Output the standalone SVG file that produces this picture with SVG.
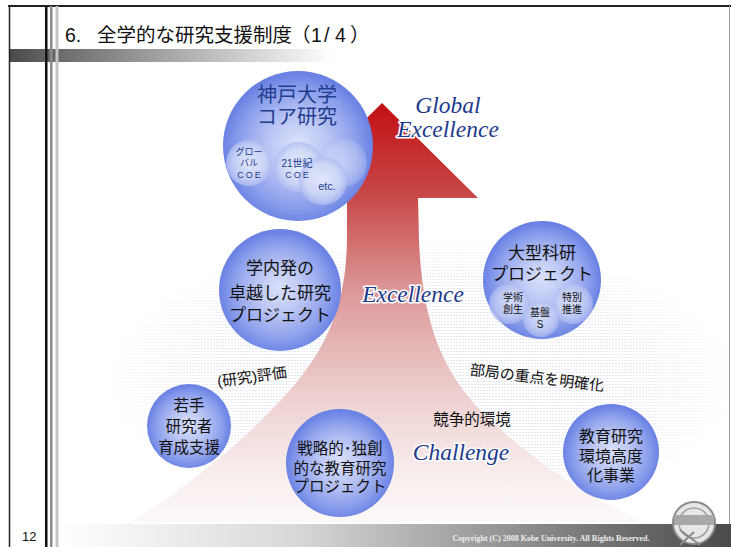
<svg xmlns="http://www.w3.org/2000/svg" width="731" height="547" viewBox="0 0 731 547">
  <style>
    .jp { font-family: "Liberation Sans", "Noto Sans CJK JP", sans-serif; fill: #111; text-anchor: middle; }
    .cjk { font-family: "Noto Sans CJK JP", sans-serif; }
    .lat { font-family: "Liberation Sans", sans-serif; }
    .navy { fill: #233e8e; }
    .it { font-family: "Liberation Serif", serif; font-style: italic; font-size: 23.5px; fill: #1d3a8c; text-anchor: middle; stroke: #ffffff; stroke-width: 3; stroke-linejoin: round; paint-order: stroke; }
    .frame { stroke: #222; fill: none; }
  </style>
  <defs>
    <linearGradient id="headBar" x1="0" y1="0" x2="1" y2="0">
      <stop offset="0" stop-color="#4a4a4a"/>
      <stop offset="0.15" stop-color="#6a6a6a"/>
      <stop offset="1" stop-color="#ffffff"/>
    </linearGradient>
    <linearGradient id="footBar" x1="0" y1="0" x2="1" y2="0">
      <stop offset="0" stop-color="#ffffff"/>
      <stop offset="0.35" stop-color="#d8d8d8"/>
      <stop offset="1" stop-color="#4a4a4a"/>
    </linearGradient>
    <linearGradient id="arrowFill" gradientUnits="userSpaceOnUse" x1="0" y1="103" x2="0" y2="522">
      <stop offset="0" stop-color="#c20f14"/>
      <stop offset="0.22" stop-color="#c84848"/>
      <stop offset="0.45" stop-color="#dc9898"/>
      <stop offset="0.7" stop-color="#eed0d0"/>
      <stop offset="0.88" stop-color="#f8ecec"/>
      <stop offset="1" stop-color="#fdf9f9"/>
    </linearGradient>
    <radialGradient id="sphere" cx="50%" cy="52%" r="50%" fx="50%" fy="48%">
      <stop offset="0" stop-color="#dbe1fa"/>
      <stop offset="0.4" stop-color="#bac5f4"/>
      <stop offset="0.78" stop-color="#8c9fec"/>
      <stop offset="1" stop-color="#6a82e4"/>
    </radialGradient>
    <radialGradient id="bubble" cx="50%" cy="50%" r="50%">
      <stop offset="0" stop-color="#eaeefc" stop-opacity="0.9"/>
      <stop offset="0.7" stop-color="#d2daf7" stop-opacity="0.8"/>
      <stop offset="1" stop-color="#aebcf1" stop-opacity="0.8"/>
    </radialGradient>
    <pattern id="dots" width="3" height="3" patternUnits="userSpaceOnUse">
      <rect x="0" y="0" width="2" height="1" fill="#d9dcea"/>
    </pattern>
    <radialGradient id="fade" gradientUnits="userSpaceOnUse" cx="420" cy="380" r="320" gradientTransform="translate(420 380) scale(1 0.45) translate(-420 -380)">
      <stop offset="0" stop-color="#fff"/>
      <stop offset="0.7" stop-color="#fff" stop-opacity="0.8"/>
      <stop offset="1" stop-color="#000"/>
    </radialGradient>
    <mask id="texMask">
      <rect x="0" y="0" width="731" height="547" fill="url(#fade)"/>
    </mask>
  </defs>

  <!-- page frame -->
  <rect x="0" y="0" width="731" height="547" fill="#ffffff"/>
  <rect x="9" y="49" width="324" height="13" fill="url(#headBar)"/>
  <rect x="60" y="524" width="671" height="23" fill="url(#footBar)"/>
  <line class="frame" x1="8" y1="6" x2="731" y2="6" stroke-width="2"/>
  <line class="frame" x1="9.5" y1="6" x2="9.5" y2="547" stroke-width="1.5"/>
  <line x1="729.5" y1="6" x2="729.5" y2="524" stroke="#999" stroke-width="1"/>
  <rect x="45" y="6" width="2.5" height="541" fill="#111"/>
  <rect x="50" y="6" width="2.5" height="541" fill="#8a8a8a"/>
  <rect x="55.5" y="6" width="3" height="541" fill="#c4c4c4"/>

  <!-- heading -->
  <g id="title" class="jp" style="text-anchor:start" font-size="19.5">
    <text x="65" y="42">6.<tspan x="97">全学的な研究支援制度</tspan><tspan class="cjk" x="291">（</tspan><tspan class="lat" x="311">1</tspan><tspan class="lat" x="324">/</tspan><tspan class="lat" x="335">4</tspan><tspan class="cjk" x="350">）</tspan></text>
  </g>

  <!-- faint dotted backdrop -->
  <rect x="90" y="230" width="640" height="290" fill="url(#dots)" mask="url(#texMask)" opacity="0.75"/>

  <!-- rising arrow -->
  <g id="connectors">
    <path d="M382,103 L478,198 L418,198 L419,240 C422,318 440,368 480,410 C530,460 592,500 645,522 L130,522 C200,480 262,425 300,378 C330,340 346,300 347,240 L347,198 L286,198 Z" fill="url(#arrowFill)"/>
  </g>

  <!-- core research -->
  <g id="core-research">
    <circle cx="298" cy="146" r="75" fill="url(#sphere)"/>
    <circle cx="343" cy="163" r="24" fill="url(#bubble)" opacity="0.55"/>
    <circle cx="249" cy="163" r="23" fill="url(#bubble)"/>
    <circle cx="299" cy="167" r="25" fill="url(#bubble)"/>
    <circle cx="323" cy="181" r="24" fill="url(#bubble)"/>
    <text class="jp navy" x="297" y="102" font-size="20">神戸大学</text>
    <text class="jp navy" x="297" y="124" font-size="20">コア研究</text>
    <text class="jp navy" x="249" y="155" font-size="9">グロー</text>
    <text class="jp navy" x="249" y="166" font-size="9">バル</text>
    <text class="jp navy" x="250" y="178" font-size="9" letter-spacing="2">COE</text>
    <text class="jp navy" x="297" y="167" font-size="10">21世紀</text>
    <text class="jp navy" x="298" y="178" font-size="9" letter-spacing="2">COE</text>
    <text class="jp navy" x="327" y="190" font-size="11">etc.</text>
  </g>

  <!-- in-house excellence projects -->
  <g id="inhouse-projects">
    <circle cx="280" cy="290" r="61" fill="url(#sphere)"/>
    <text class="jp" x="280" y="274" font-size="17">学内発の</text>
    <text class="jp" x="280" y="299" font-size="17">卓越した研究</text>
    <text class="jp" x="280" y="321" font-size="17">プロジェクト</text>
  </g>

  <!-- large grant projects -->
  <g id="large-grants">
    <circle cx="542" cy="280" r="59" fill="url(#sphere)"/>
    <circle cx="509" cy="304" r="20" fill="url(#bubble)" opacity="0.8"/>
    <circle cx="573" cy="304" r="20" fill="url(#bubble)" opacity="0.8"/>
    <circle cx="541" cy="319" r="18" fill="url(#bubble)" opacity="0.8"/>
    <text class="jp" x="542" y="259" font-size="17">大型科研</text>
    <text class="jp" x="542" y="280" font-size="17">プロジェクト</text>
    <text class="jp" x="513" y="301" font-size="10">学術</text>
    <text class="jp" x="513" y="313" font-size="10">創生</text>
    <text class="jp" x="572" y="301" font-size="10">特別</text>
    <text class="jp" x="572" y="313" font-size="10">推進</text>
    <text class="jp" x="540" y="316" font-size="10">基盤</text>
    <text class="jp" x="540" y="328" font-size="10">S</text>
  </g>

  <!-- young researchers -->
  <g id="young-researchers">
    <circle cx="189" cy="426" r="42" fill="url(#sphere)"/>
    <text class="jp" x="189" y="411" font-size="15.5">若手</text>
    <text class="jp" x="189" y="432" font-size="15.5">研究者</text>
    <text class="jp" x="189" y="453" font-size="15.5">育成支援</text>
  </g>

  <!-- strategic education projects -->
  <g id="strategic-projects">
    <circle cx="340" cy="463" r="54" fill="url(#sphere)"/>
    <text class="jp" x="340" y="454" font-size="15.5">戦略的･独創</text>
    <text class="jp" x="340" y="474" font-size="15.5">的な教育研究</text>
    <text class="jp" x="340" y="492" font-size="15.5">プロジェクト</text>
  </g>

  <!-- research environment programme -->
  <g id="environment-programme">
    <circle cx="611" cy="452" r="48" fill="url(#sphere)"/>
    <text class="jp" x="611" y="442" font-size="16">教育研究</text>
    <text class="jp" x="611" y="462" font-size="16">環境高度</text>
    <text class="jp" x="611" y="481" font-size="16">化事業</text>
  </g>

  <!-- stage labels -->
  <g id="labels">
    <text class="it" x="448" y="113">Global</text>
    <text class="it" x="448" y="137">Excellence</text>
    <text class="it" x="413" y="302">Excellence</text>
    <text class="it" x="461" y="460">Challenge</text>
    <text class="jp" x="472" y="425" font-size="15.5">競争的環境</text>
    <text class="jp" x="252" y="382" font-size="15" transform="rotate(-8 252 377)">(研究)評価</text>
    <text class="jp" x="537" y="383" font-size="15" transform="rotate(7 537 378)">部局の重点を明確化</text>
  </g>

  <!-- footer -->
  <text x="551" y="541" font-family="'Liberation Serif', serif" font-weight="bold" font-size="8" fill="#eeeeee" text-anchor="middle">Copyright (C) 2008 Kobe University. All Rights Reserved.</text>
  <g id="emblem" fill="none">
    <circle cx="694" cy="523" r="21" fill="#e6e6e6" stroke="#8a8a8a" stroke-width="2"/>
    <circle cx="694" cy="523" r="15" stroke="#a0a0a0" stroke-width="1.5"/>
    <rect x="674" y="515" width="40" height="10" fill="#a8a8a8"/>
    <path d="M680,530 L700,545 M680,545 L694,532" stroke="#888" stroke-width="2"/>
  </g>
  <text x="22" y="541" font-family="'Liberation Sans', sans-serif" font-size="13" fill="#111">12</text>
</svg>
